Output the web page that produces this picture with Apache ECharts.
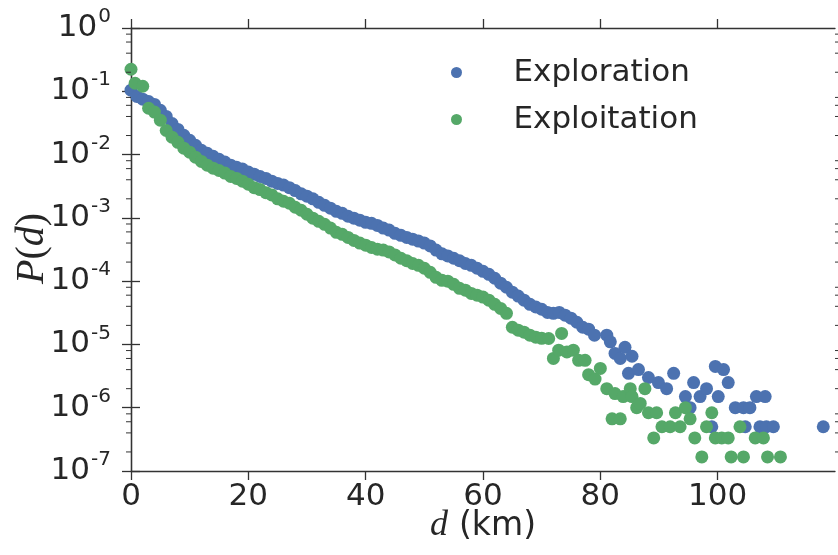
<!DOCTYPE html>
<html>
<head>
<meta charset="utf-8">
<script src="https://cdn.jsdelivr.net/npm/echarts@6/dist/echarts.min.js"></script>
<style>
  html, body { margin: 0; padding: 0; background: #fff; }
  #chart { width: 838px; height: 555px; }
</style>
</head>
<body>
<div id="chart"></div>
<script>
// Distance distribution P(d) for exploration and exploitation trips (d in km)
const explorationKm = [
  0, 1, 2, 3, 4, 5, 6, 7, 8, 9, 10, 11, 12, 13, 14, 15, 16, 17, 18, 19,
  20, 21, 22, 23, 24, 25, 26, 27, 28, 29, 30, 31, 32, 33, 34, 35, 36, 37, 38, 39,
  40, 41, 42, 43, 44, 45, 46, 47, 48, 49, 50, 51, 52, 53, 54, 55, 56, 57, 58, 59,
  60, 61, 62, 63, 64, 65, 66, 67, 68, 69, 70, 71, 72, 73, 74, 75, 76, 77, 78, 79,
  81.1, 81.7, 82.5, 83.4, 84.2, 85.4, 84.8, 86.5, 88.2, 89.9, 91.3, 92.5, 94.5, 95.9,
  97, 98.1, 95.3, 100.1, 99.6, 101, 101.8, 103, 104.4, 105.5, 106.6, 108.1,
  99, 104.7, 107.2, 108.3, 109.5, 118
];
const explorationP = [
  0.104, 0.083, 0.075, 0.069, 0.062, 0.050, 0.040, 0.031, 0.025, 0.0202,
  0.0168, 0.0140, 0.0117, 0.0105, 0.0094, 0.0084, 0.0076, 0.0068, 0.0063, 0.0059,
  0.0053, 0.0049, 0.0045, 0.0042, 0.0038, 0.0035, 0.0033, 0.0030, 0.0027, 0.0024,
  0.0022, 0.0020, 0.00176, 0.00158, 0.00142, 0.00127, 0.00118, 0.00106, 0.00099, 0.00092,
  0.00085, 0.00082, 0.00076, 0.00069, 0.00064, 0.00057, 0.00053, 0.00049, 0.00046, 0.00043,
  0.00040, 0.00036, 0.00031, 0.00027, 0.00025, 0.00023, 0.00021, 0.00019, 0.000178, 0.000160,
  0.000143, 0.000128, 0.000111, 0.000093, 0.000080, 0.000067, 0.000058, 0.000050, 0.000043, 0.000039,
  0.000036, 0.000032, 0.000031, 0.000032, 0.000029, 0.000026, 0.0000224, 0.0000187, 0.0000174, 0.0000140,
  1.4e-5, 1.1e-5, 7.2e-6, 6.0e-6, 9.0e-6, 6.5e-6, 3.5e-6, 4.0e-6, 3.0e-6, 2.5e-6,
  2.0e-6, 3.5e-6, 1.5e-6, 2.5e-6, 1.5e-6, 2.0e-6, 1.0e-6, 1.5e-6, 4.5e-6, 4.0e-6,
  2.5e-6, 1.0e-6, 1.0e-6, 1.0e-6, 1.5e-6, 1.5e-6,
  5e-7, 5e-7, 5e-7, 5e-7, 5e-7, 5e-7
];

const exploitationKm = [
  0, 0.7, 2, 3, 4, 5, 6, 7, 8, 9, 10, 11, 12, 13, 14, 15, 16, 17, 18, 19,
  20, 21, 22, 23, 24, 25, 26, 27, 28, 29, 30, 31, 32, 33, 34, 35, 36, 37, 38, 39,
  40, 41, 42, 43, 44, 45, 46, 47, 48, 49, 50, 51, 52, 53, 54, 55, 56, 57, 58, 59,
  60, 61, 62, 63, 64, 65, 66, 67, 68, 69, 70,
  71.2, 73.4, 72.0, 72.9, 74.3, 75.4, 76.3, 77.4, 78, 79.1, 80, 81.1, 82.5, 83.9,
  85.1, 85.4, 86.2, 86.8, 87.6, 82, 83.4, 88.2, 89.6, 90.5, 91.9, 92.8, 93.6, 94.5,
  95.3, 89.1, 96.1, 98.1, 99, 99.6, 100.7, 101.8, 103.8, 106.4, 107.8,
  97.3, 102.3, 104.4, 108.5, 110.7
];
const exploitationP = [
  0.223, 0.134, 0.120, 0.054, 0.047, 0.035, 0.024, 0.0188, 0.0156, 0.0126,
  0.0109, 0.0091, 0.0078, 0.0068, 0.0061, 0.0056, 0.0051, 0.0045, 0.0042, 0.0038,
  0.0034, 0.0030, 0.0028, 0.0025, 0.0023, 0.0020, 0.00183, 0.00170, 0.00147, 0.00132,
  0.00114, 0.00099, 0.00088, 0.00079, 0.00069, 0.00059, 0.00055, 0.00049, 0.00044, 0.00040,
  0.00037, 0.00034, 0.00032, 0.00031, 0.00029, 0.00026, 0.00023, 0.00021, 0.00019, 0.000178,
  0.000160, 0.000138, 0.000115, 0.000103, 0.000100, 0.000089, 0.000077, 0.000072, 0.000064, 0.000060,
  0.000056, 0.000050, 0.000043, 0.000037, 0.000031, 1.87e-5, 1.68e-5, 1.56e-5, 1.40e-5, 1.30e-5,
  1.25e-5,
  1.24e-5, 1.49e-5, 6.0e-6, 8.1e-6, 7.6e-6, 8.1e-6, 5.6e-6, 5.6e-6, 3.33e-6, 2.83e-6,
  4.17e-6, 2.0e-6, 1.67e-6, 1.5e-6, 2.0e-6, 1.5e-6, 1.0e-6, 1.17e-6, 2.0e-6, 6.67e-7,
  6.67e-7, 8.33e-7, 8.33e-7, 5e-7, 5e-7, 8.33e-7, 5e-7, 1.0e-6, 6.67e-7, 3.33e-7,
  3.33e-7, 5e-7, 8.33e-7, 3.33e-7, 3.33e-7, 3.33e-7, 5e-7, 3.33e-7, 3.33e-7,
  1.67e-7, 1.67e-7, 1.67e-7, 1.67e-7, 1.67e-7
];

const seriesNames = ['Exploration', 'Exploitation'];
const seriesColors = ['#4C72B0', '#55A868'];
const xTicks = [0, 20, 40, 60, 80, 100];
const minorSubs = [2, 4, 6, 8];
const yDecades = [-7, -6, -5, -4, -3, -2, -1, 0];

const zip = (xs, ys) => xs.map((x, i) => [x, ys[i]]);

// minor tick values (2,4,6,8 x 10^k) for the log axis
const minorTickValues = [];
for (let k = 0; k < yDecades.length - 1; k++) {
  minorSubs.forEach(s => minorTickValues.push(s * Math.pow(10, yDecades[k])));
}

const FONT = 'DejaVu Sans';
const INK = '#262626';
const AXIS = '#333333';

function expLabel(v) {
  const e = Math.round(Math.log10(v));
  return '{b|10}{e|' + String(e) + '}';
}

const chart = echarts.init(document.getElementById('chart'), null, { renderer: 'canvas' });

const minorTickSeries = (side) => ({
  type: 'custom',
  silent: true,
  clip: false,
  z: 5,
  data: minorTickValues,
  encode: { y: 0 },
  renderItem: function (params, api) {
    const p = api.coord([side === 'left' ? 0 : 120, api.value(0)]);
    const x0 = side === 'left' ? p[0] - 5 : p[0];
    const x1 = side === 'left' ? p[0] : p[0] + 5;
    return {
      type: 'line',
      shape: { x1: x0, y1: p[1], x2: x1, y2: p[1] },
      style: { stroke: AXIS, lineWidth: 1 }
    };
  }
});

chart.setOption({
  animation: false,
  backgroundColor: '#ffffff',
  textStyle: { fontFamily: FONT },
  grid: { left: 131, right: 3, top: 28, bottom: 84 },
  legend: {
    data: seriesNames,
    orient: 'vertical',
    left: 446,
    top: 52,
    icon: 'circle',
    itemWidth: 104,
    itemHeight: 11,
    itemGap: 16,
    textStyle: { fontFamily: FONT, fontSize: 31, color: INK }
  },
  xAxis: [{
    type: 'value',
    min: 0, max: 120, interval: 20,
    axisLine: { show: true, lineStyle: { color: AXIS, width: 1.3 } },
    axisTick: { show: true, inside: false, length: 9, lineStyle: { color: AXIS, width: 1.3 },
      customValues: xTicks },
    axisLabel: { fontFamily: FONT, fontSize: 31, color: INK, margin: 10,
      customValues: xTicks },
    splitLine: { show: false }
  }, {
    type: 'value',
    position: 'top',
    min: 0, max: 120, interval: 20,
    axisLine: { show: true, lineStyle: { color: AXIS, width: 1.3 } },
    axisTick: { show: true, inside: false, length: 9, lineStyle: { color: AXIS, width: 1.3 },
      customValues: xTicks },
    axisLabel: { show: false },
    splitLine: { show: false }
  }],
  yAxis: [{
    type: 'log',
    logBase: 10,
    min: 1e-7, max: 1,
    interval: 1,
    axisLine: { show: true, lineStyle: { color: AXIS, width: 1.3 } },
    axisTick: { show: true, inside: false, length: 9, lineStyle: { color: AXIS, width: 1.3 } },
    axisLabel: {
      margin: 20,
      formatter: expLabel,
      rich: {
        b: { fontFamily: FONT, fontSize: 31, color: INK },
        e: { fontFamily: FONT, fontSize: 20, color: INK, padding: [0, 0, 22, 1] }
      }
    },
    splitLine: { show: false }
  }, {
    type: 'log',
    logBase: 10,
    min: 1e-7, max: 1,
    interval: 1,
    position: 'right',
    axisLine: { show: true, lineStyle: { color: AXIS, width: 1.3 } },
    axisTick: { show: true, inside: false, length: 9, lineStyle: { color: AXIS, width: 1.3 } },
    axisLabel: { show: false },
    splitLine: { show: false }
  }],
  graphic: [{
    type: 'text',
    left: 430,
    top: 508,
    style: {
      text: '{d|d}{u|(km)}',
      rich: {
        d: { fontFamily: 'Liberation Serif', fontStyle: 'italic', fontSize: 36, fill: INK },
        u: { fontFamily: FONT, fontSize: 33, fill: INK, padding: [0, 0, 0, 11] }
      }
    }
  }, {
    type: 'text',
    rotation: Math.PI / 2,
    x: 12,
    y: 284,
    style: {
      text: '{i|P}{r|(}{i|d}{r|)}',
      rich: {
        i: { fontFamily: 'Liberation Serif', fontStyle: 'italic', fontSize: 40, fill: INK },
        r: { fontFamily: 'Liberation Serif', fontSize: 40, fill: INK }
      }
    }
  }],
  series: [{
    name: seriesNames[0],
    type: 'scatter',
    symbol: 'circle',
    symbolSize: 13,
    itemStyle: { color: seriesColors[0], opacity: 1 },
    data: zip(explorationKm, explorationP),
    z: 2
  }, {
    name: seriesNames[1],
    type: 'scatter',
    symbol: 'circle',
    symbolSize: 13,
    itemStyle: { color: seriesColors[1], opacity: 1 },
    data: zip(exploitationKm, exploitationP),
    z: 3
  },
  minorTickSeries('left'),
  minorTickSeries('right')]
});
</script>
</body>
</html>
